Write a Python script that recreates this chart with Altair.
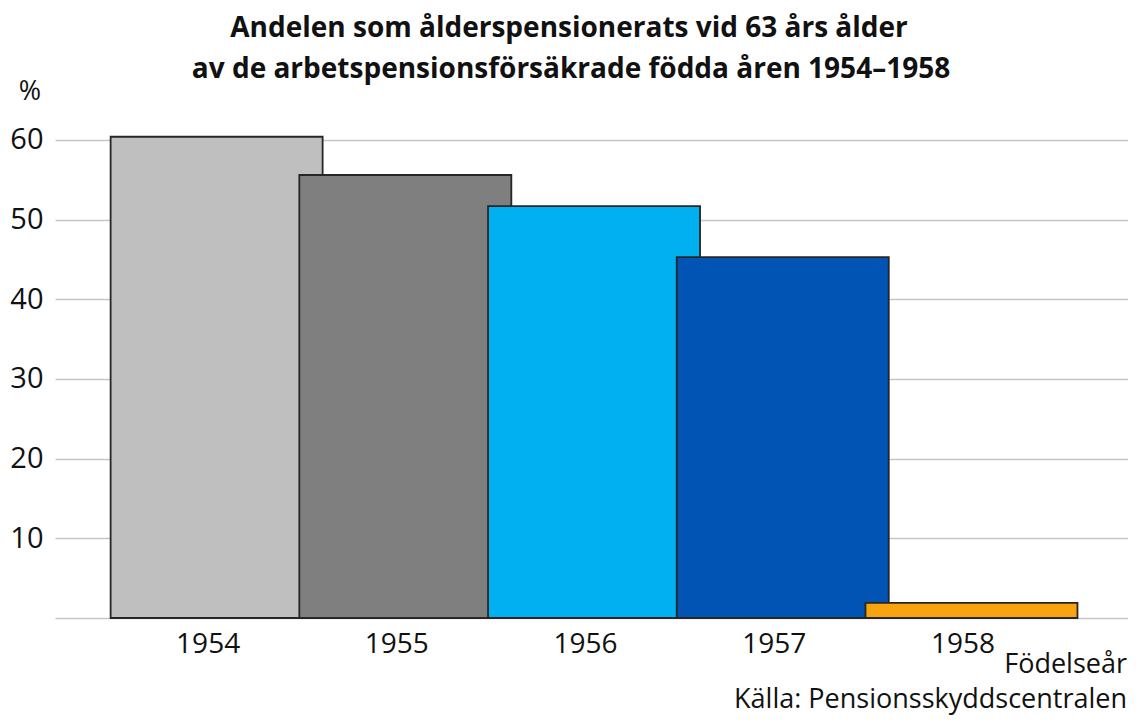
import altair as alt
import pandas as pd

# --- data ---
years = [1954, 1955, 1956, 1957, 1958]
shares = [60.4, 55.6, 51.7, 45.3, 1.9]
bar_colors = ["#bfbfbf", "#7f7f7f", "#00b0f0", "#0254b4", "#f9a30f"]
y_ticks = [0, 10, 20, 30, 40, 50, 60]
title_lines = [
    "Andelen som ålderspensionerats vid 63 års ålder",
    "av de arbetspensionsförsäkrade födda åren 1954–1958",
]
y_unit = "%"
x_label = "Födelseår"
source = "Källa: Pensionsskyddscentralen"

df = pd.DataFrame({"year": years, "share": shares, "cat": [str(y) for y in years]})

FONT = "Open Sans"
W, H = 1073, 494

x_scale = alt.Scale(domain=[1953.17, 1958.803], nice=False, zero=False)
y_scale = alt.Scale(domain=[0, 62], nice=False)

bars = alt.Chart(df).mark_bar(
    width=212, stroke="#262626", strokeWidth=1.8, opacity=1
).encode(
    x=alt.X("year:Q", scale=x_scale,
            axis=alt.Axis(values=years, format="d", title=None, grid=False,
                          domain=False, ticks=False, labelFont=FONT,
                          labelFontSize=28, labelColor="#111111",
                          labelPadding=12, labelOffset=-9, labelFlush=False)),
    y=alt.Y("share:Q", scale=y_scale,
            axis=alt.Axis(values=y_ticks, title=None, domain=False, ticks=False,
                          labelExpr="datum.value == 0 ? '' : datum.label",
                          labelFont=FONT, labelFontSize=29, labelColor="#111111",
                          labelPadding=12, gridColor="#c6c6c6", gridWidth=1.5)),
    color=alt.Color("cat:N", scale=alt.Scale(domain=[str(y) for y in years],
                                             range=bar_colors), legend=None),
)

def txt(s, x, y, size=28, bold=False, align="center"):
    return alt.Chart(pd.DataFrame({"t": [s]})).mark_text(
        font=FONT, fontSize=size, fontWeight="bold" if bold else "normal",
        align=align, baseline="alphabetic", color="#111111"
    ).encode(x=alt.value(x), y=alt.value(y), text="t:N")

layers = [
    bars,
    txt(title_lines[0], 514, -87, size=28, bold=True),
    txt(title_lines[1], 516, -46, size=28, bold=True),
    txt(y_unit, -25, -24, size=27),
    txt(x_label, 1072, 549, size=27, align="right"),
    txt(source, 1072, 584, size=27, align="right"),
]

chart = alt.layer(*layers).properties(
    width=W, height=H,
    background="white",
    padding={"left": 47, "top": 116, "right": 0, "bottom": 98},
    autosize=alt.AutoSizeParams(type="none"),
).configure_view(strokeWidth=0, stroke="transparent")

chart.save("out.html", embed_options={"renderer": "svg", "actions": False})
